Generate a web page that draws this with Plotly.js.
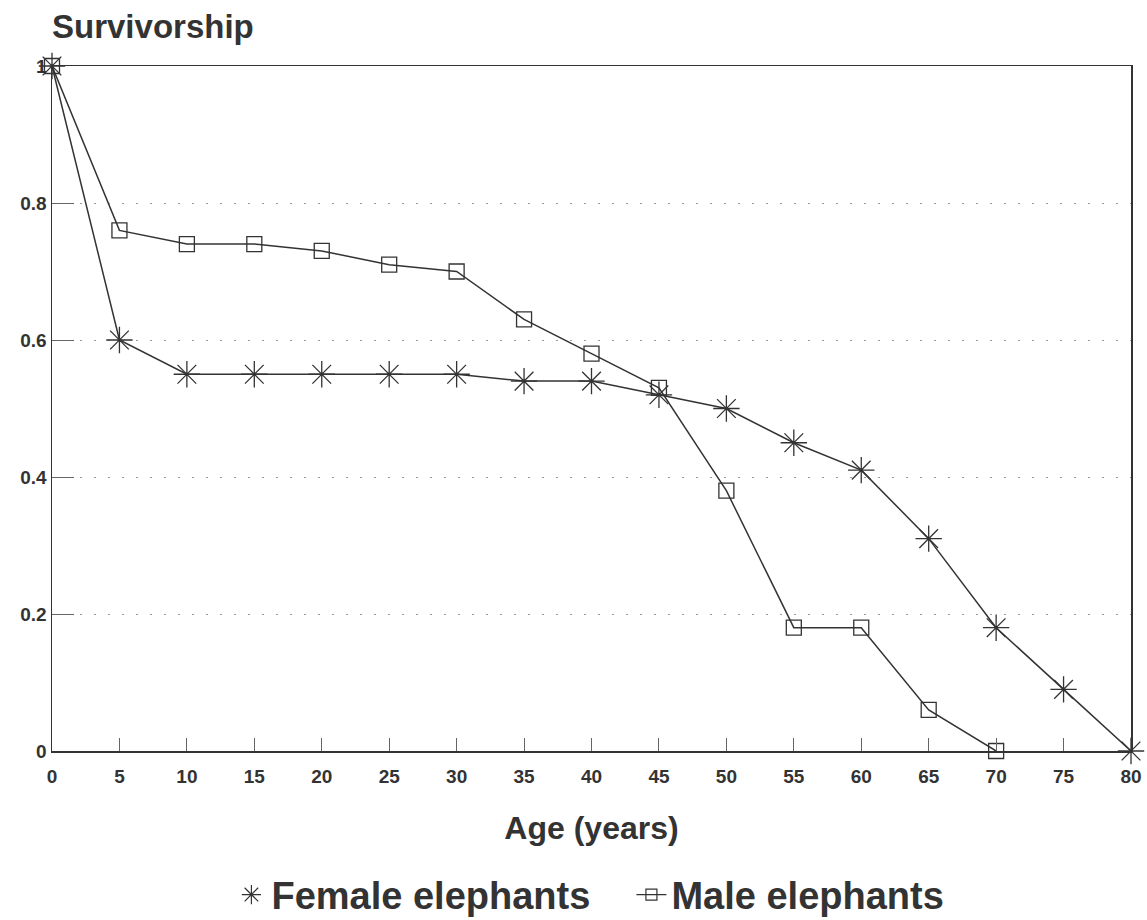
<!DOCTYPE html>
<html>
<head>
<meta charset="utf-8">
<script src="https://cdn.plot.ly/plotly-3.0.1.min.js"></script>
<style>html,body{margin:0;padding:0;background:#fff;}#chart{width:1147px;height:920px;}</style>
</head>
<body>
<div id="chart"></div>
<script>
var ages = [0, 5, 10, 15, 20, 25, 30, 35, 40, 45, 50, 55, 60, 65, 70, 75, 80];
var femaleSurv = [1, 0.60, 0.55, 0.55, 0.55, 0.55, 0.55, 0.54, 0.54, 0.52, 0.50, 0.45, 0.41, 0.31, 0.18, 0.09, 0];
var maleAges = [0, 5, 10, 15, 20, 25, 30, 35, 40, 45, 50, 55, 60, 65, 70];
var maleSurv = [1, 0.76, 0.74, 0.74, 0.73, 0.71, 0.70, 0.63, 0.58, 0.53, 0.38, 0.18, 0.18, 0.06, 0];
var xTicks = [0, 5, 10, 15, 20, 25, 30, 35, 40, 45, 50, 55, 60, 65, 70, 75, 80];
var yTicks = [0, 0.2, 0.4, 0.6, 0.8, 1];

var ink = '#333333';
var fnt = 'Liberation Sans, Arial, Helvetica, sans-serif';

var traces = [
  {
    x: ages, y: femaleSurv, name: 'Female elephants', type: 'scatter', mode: 'lines+markers',
    line: {color: ink, width: 1.5},
    marker: {symbol: 'asterisk-open', size: 22, color: ink, line: {color: ink, width: 1.3}},
    cliponaxis: false, showlegend: false
  },
  {
    x: maleAges, y: maleSurv, name: 'Male elephants', type: 'scatter', mode: 'lines+markers',
    line: {color: ink, width: 1.5},
    marker: {symbol: 'square-open', size: 15, color: ink, line: {color: ink, width: 1.3}},
    cliponaxis: false, showlegend: false
  },
  {
    x: [null], y: [null], name: 'Female elephants', type: 'scatter', mode: 'markers',
    marker: {symbol: 'asterisk-open', size: 22, color: ink, line: {color: ink, width: 1.2}},
    showlegend: true
  },
  {
    x: [null], y: [null], name: 'Male elephants', type: 'scatter', mode: 'lines+markers',
    line: {color: ink, width: 1.2},
    marker: {symbol: 'square-open', size: 11, color: ink, line: {color: ink, width: 1.2}},
    showlegend: true
  }
];

var layout = {
  width: 1147, height: 920,
  margin: {l: 52, r: 16, t: 66, b: 169, autoexpand: false},
  paper_bgcolor: '#ffffff', plot_bgcolor: '#ffffff',
  font: {family: fnt, color: ink},
  xaxis: {
    range: [0, 80], tickvals: xTicks, ticktext: xTicks.map(String),
    ticks: 'inside', ticklen: 13, tickwidth: 1, tickcolor: '#666',
    showline: true, linecolor: ink, linewidth: 1.5, mirror: true,
    showgrid: false, zeroline: false, automargin: false,
    ticklabelstandoff: 8,
    tickfont: {family: fnt, size: 19, color: ink, weight: 'bold'},
    title: {text: 'Age (years)', font: {family: fnt, size: 32, color: ink, weight: 'bold'}, standoff: 30}
  },
  yaxis: {
    range: [0, 1], tickvals: yTicks, ticktext: ['0', '0.2', '0.4', '0.6', '0.8', '1'],
    ticks: 'inside', ticklen: 22, tickwidth: 1, tickcolor: '#666',
    showline: true, linecolor: ink, linewidth: 1.5, mirror: true,
    showgrid: true, gridcolor: '#9a9a9a', gridwidth: 1, griddash: '2px,12px',
    zeroline: false, automargin: false,
    tickfont: {family: fnt, size: 19, color: ink, weight: 'bold'}
  },
  legend: {
    orientation: 'h', x: 0.537, xanchor: 'center', y: -0.21, yanchor: 'middle',
    font: {family: fnt, size: 38, color: ink, weight: 'bold'},
    bgcolor: 'rgba(0,0,0,0)', entrywidth: 355, entrywidthmode: 'pixels'
  },
  annotations: [
    {
      text: 'Survivorship', xref: 'paper', yref: 'paper', x: 0, y: 1,
      xanchor: 'left', yanchor: 'middle', yshift: 40, xshift: -2, showarrow: false,
      font: {family: fnt, size: 33, color: ink, weight: 'bold'}
    }
  ]
};

Plotly.newPlot('chart', traces, layout, {displayModeBar: false, staticPlot: true});
</script>
</body>
</html>
